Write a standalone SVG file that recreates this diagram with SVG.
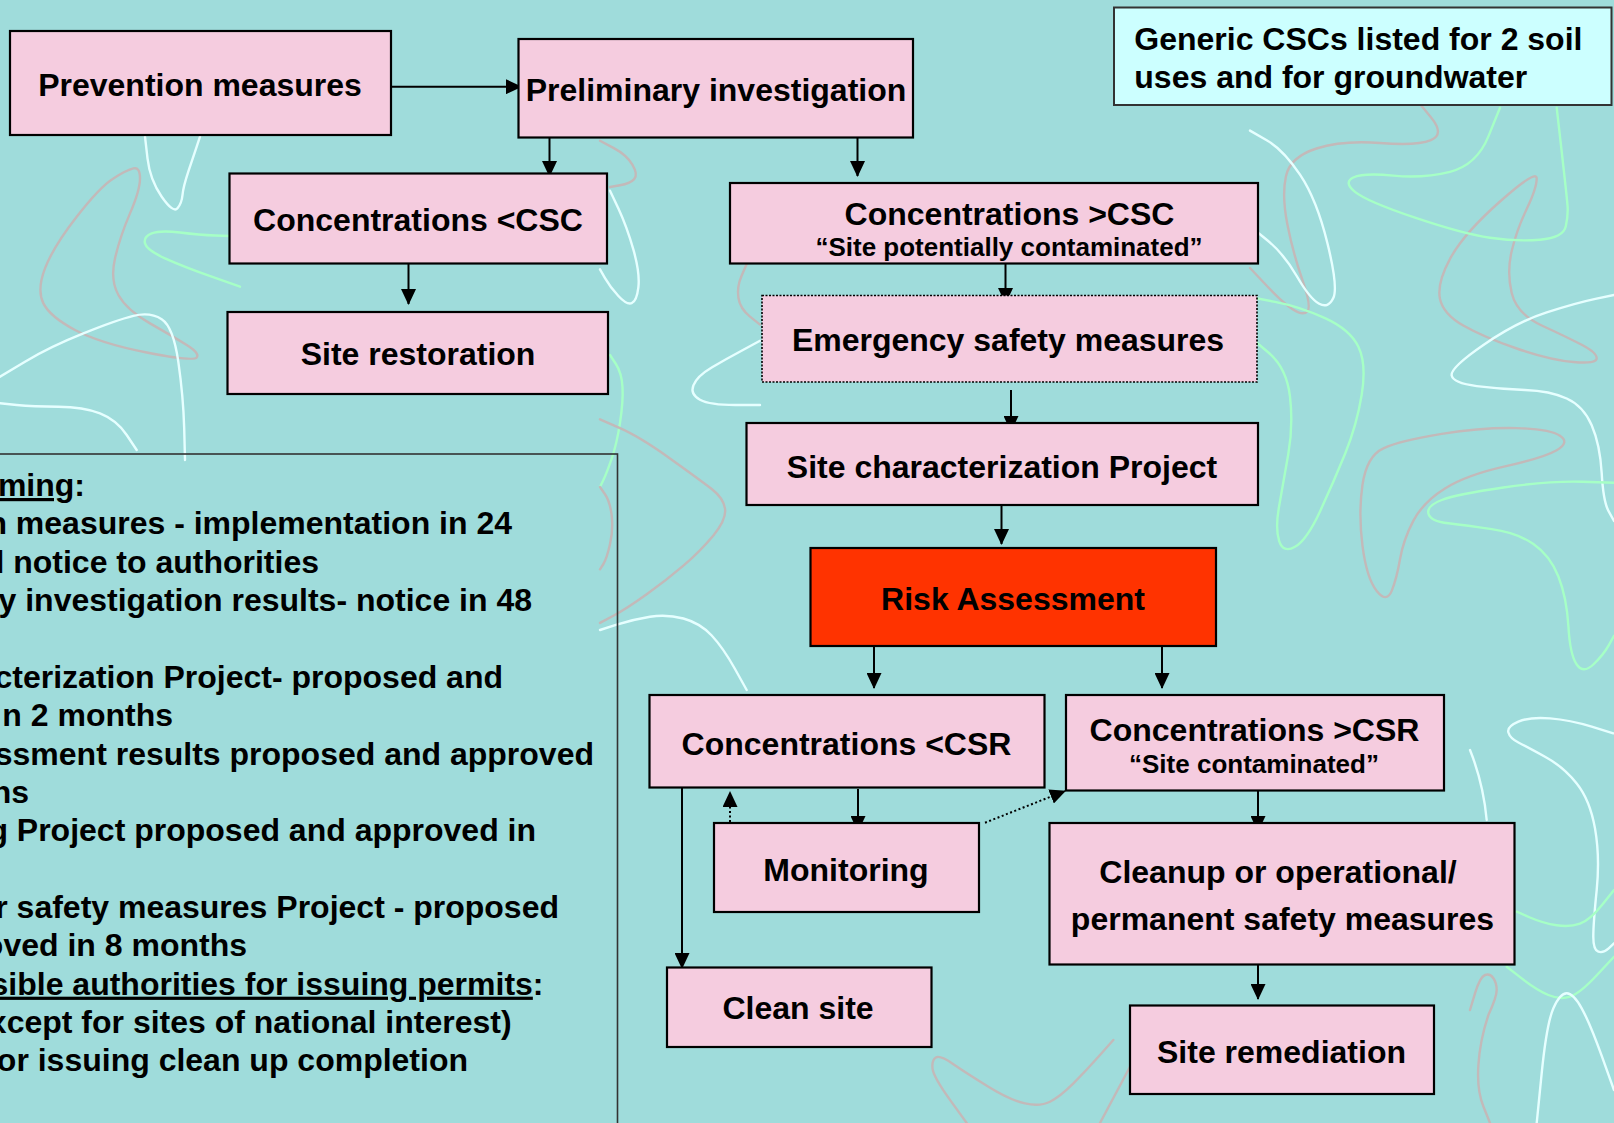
<svg xmlns="http://www.w3.org/2000/svg" width="1614" height="1123" viewBox="0 0 1614 1123">
<defs>
<marker id="ah" markerUnits="userSpaceOnUse" markerWidth="16" markerHeight="15" refX="15" refY="7.5" orient="auto">
<path d="M0,0 L16,7.5 L0,15 z" fill="#000"/>
</marker>
<style>
.bg{fill:#9FDCDB}
.node{fill:#F5CCDF;stroke:#000;stroke-width:2.2}
.risk{fill:#FF3300;stroke:#000;stroke-width:2.2}
.note{fill:#CCFFFF;stroke:#333;stroke-width:2}
.dotbox{fill:#F5CCDF;stroke:#000;stroke-width:1.6;stroke-dasharray:2 1.5}
.t{font-family:"Liberation Sans",Arial,sans-serif;font-weight:bold;font-size:32px;fill:#000}
.c{text-anchor:middle}
.s{font-size:26px}
.e{text-anchor:end}
.conn line{stroke:#000;stroke-width:2;fill:none}
.conn .dot{stroke-dasharray:2 2.5}
.sq path{fill:none;stroke-width:2.4;stroke-linejoin:round;stroke-linecap:round}
.g{stroke:#C3B9B9}
.w{stroke:#E6FFFF}
.gr{stroke:#A6FFC6}
</style>
</defs>
<rect class="bg" x="0" y="0" width="1614" height="1123"/>

<g class="sq" id="background-squiggles">
<path class="g" d="M1416.7,100 L1430.9,117.2 Q1445,134.4 1430.9,140.2 Q1416.7,146 1379.9,143 Q1343,140 1316.5,148.5 Q1290,157 1285.9,176.4 Q1281.7,195.7 1287.4,224.4 Q1293,253 1302.4,279.9 Q1311.7,306.7 1307.4,311.4 Q1303,316 1293,309.5 Q1283,303 1266.5,285.5 L1250,268"/>
<path class="g" d="M1536.7,178.5 Q1536.7,168.9 1500,201.5 Q1463.3,234 1450,258.9 Q1436.7,283.7 1440,298.9 Q1443.3,314 1463.3,325.5 Q1483.3,337 1516.7,348.5 Q1550,360 1573.4,362 Q1596.7,364 1596.7,358.3 Q1596.7,352.6 1581.7,344.8 Q1566.7,337 1541.7,325.5 Q1516.7,314 1511.7,293 Q1506.7,272 1511.7,251 Q1516.7,230 1526.7,209 Q1536.7,188 1536.7,178.5 Z"/>
<path class="gr" d="M1500,107.7 L1488.4,136.4 Q1476.7,165 1450,171.8 Q1423.3,178.5 1393.3,175.6 Q1363.3,172.7 1353.3,177.5 Q1343.3,182.3 1355,191.9 Q1366.7,201.4 1415,217.7 Q1463.3,234 1490,237.8 Q1516.7,241.6 1540,239.7 Q1563.3,237.8 1565.8,226.3 Q1568.3,214.8 1567.5,205.3 Q1566.7,195.7 1561.7,151.7 L1556.7,107.7"/>
<path class="w" d="M1250,130.6 L1266.7,140.2 Q1283.3,149.8 1300,174.7 Q1316.7,199.5 1327.5,243.5 Q1338.3,287.5 1333.3,298.1 Q1328.3,308.6 1319.2,303.8 Q1310,299 1296.7,276 Q1283.3,253 1266.7,239.7 L1250,226.3"/>
<path class="w" d="M1614,295 L1595.4,298.9 Q1576.7,302.8 1546.7,312.4 Q1516.7,322 1483.4,345 Q1450,368 1451.7,375.6 Q1453.3,383.2 1476.7,386.1 Q1500,389 1525,390 Q1550,390.9 1566.7,398.5 Q1583.3,406 1591.7,425.2 Q1600,444.4 1601.7,473.1 Q1603.3,501.8 1608.7,511.4 L1614,521"/>
<path class="g" d="M1556.7,450.2 Q1570,442.5 1560,435.8 Q1550,429 1516.7,428.1 Q1483.3,427.2 1441.7,433.9 Q1400,440.6 1383.4,448.3 Q1366.7,456 1362.5,484.7 Q1358.3,513.3 1362.5,545.9 Q1366.7,578.4 1376.7,590.9 Q1386.7,603.3 1391.7,590.9 Q1396.7,578.4 1400,559.2 Q1403.3,540 1413.3,520.9 Q1423.3,501.8 1445,488.4 Q1466.7,475 1505,466.4 Q1543.3,457.8 1556.7,450.2 Z"/>
<path class="gr" d="M1614,482.7 L1582,481.8 Q1550,480.8 1503.4,487.5 Q1456.7,494.2 1441.7,500 Q1426.7,505.7 1428.4,513.4 Q1430,521 1448.4,523.3 Q1466.7,525.6 1491.7,529.1 Q1516.7,532.5 1533.4,544 Q1550,555.4 1558.4,576.5 Q1566.7,597.5 1568.4,626.3 Q1570,655 1576.7,664.5 Q1583.3,674 1593.3,664.5 Q1603.3,655 1608.7,645.4 L1614,635.8"/>
<path class="gr" d="M1250,297 L1275,301.9 Q1300,306.7 1325,318.2 Q1350,329.6 1358.4,346.8 Q1366.7,364 1361.7,394.7 Q1356.7,425.3 1345,454 Q1333.3,482.7 1320,511.4 Q1306.7,540 1295,546.8 Q1283.3,553.5 1279.2,541.1 Q1275,528.6 1279.2,505.7 Q1283.3,482.7 1288.3,454 Q1293.3,425.3 1290,396.7 Q1286.7,368 1268.4,352.5 L1250,337"/>
<path class="g" d="M140,178.4 Q140,166.7 133.4,168.4 Q126.7,170 113.4,178.4 Q100,186.7 76.7,216.7 Q53.3,246.7 45,268.4 Q36.7,290 43.4,303.4 Q50,316.7 75,330 Q100,343.3 146.7,352.5 Q193.3,361.7 196.7,357.5 Q200,353.3 186.7,345 Q173.3,336.7 150,323.4 Q126.7,310 118.4,295 Q110,280 115,258.4 Q120,236.7 130,213.4 Q140,190 140,178.4 Z"/>
<path class="w" d="M0,376.7 L25,361.7 Q50,346.7 83.4,333.4 Q116.7,320 133.4,315.9 Q150,311.7 161.7,319.2 Q173.3,326.7 178.3,361.7 Q183.3,396.7 184.2,428.4 L185,460"/>
<path class="w" d="M0,403.3 L16.7,405 Q33.3,406.7 58.3,406.7 Q83.3,406.7 100,413.4 Q116.7,420 126.7,435 L136.7,450"/>
<path class="gr" d="M230,236 L215,235.5 Q200,235 180,232.5 Q160,230 151.7,233.4 Q143.3,236.7 145,243.4 Q146.7,250 165,258.4 Q183.3,266.7 211.7,276.7 L240,286.7"/>
<path class="w" d="M145,136.7 L147.5,158.4 Q150,180 161.7,196.7 Q173.3,213.3 177.5,208.3 Q181.7,203.3 182.5,195 Q183.3,186.7 188.3,171.7 Q193.3,156.7 196.7,146.7 L200,136.7"/>
<path class="g" d="M600,140.7 L613.4,147.9 Q626.7,155 632.5,164.8 Q638.3,174.6 634.2,179.1 Q630,183.6 620,185.3 L610,187"/>
<path class="w" d="M610,190.7 L618.4,208.6 Q626.7,226.4 633.4,249.7 Q640,272.9 638.4,287.2 Q636.7,301.4 631.7,303.2 Q626.7,305 618.4,296 Q610,287 605,278.2 L600,269.3"/>
<path class="gr" d="M610,355 L615.9,364 Q621.7,372.9 622.5,387.2 Q623.3,401.4 620,422.9 Q616.7,444.3 611.7,458.6 Q606.7,472.9 603.4,480 L600,487"/>
<path class="g" d="M600,419.3 L620,428.2 Q640,437 670,458.5 Q700,480 711.7,489 Q723.3,497.9 725,508.6 Q726.7,519.3 713.4,535.4 Q700,551.4 683.4,565.7 Q666.7,580 646.7,594.3 Q626.7,608.6 613.4,615.8 L600,622.9"/>
<path class="g" d="M600,487 L605,494.2 Q610,501.4 611.7,515.7 Q613.3,530 610,544.3 Q606.7,558.6 603.4,564 L600,569.3"/>
<path class="w" d="M600,630 L616.7,624.7 Q633.3,619.3 650,616.7 Q666.7,614 683.4,618.5 Q700,623 711.7,635.5 Q723.3,648 735,669 L746.7,690"/>
<path class="g" d="M746.7,264 L741.7,275.5 Q736.7,287 738.4,297.8 Q740,308.6 750,316.6 L760,324.6"/>
<path class="w" d="M760,340.7 L743.4,349.7 Q726.7,358.6 711.7,367.5 Q696.7,376.4 693.4,385.4 Q690,394.3 700,399.7 Q710,405 735,405 L760,405"/>
<path class="w" d="M1613.3,733.3 L1591.7,726.7 Q1570,720 1550,718.4 Q1530,716.7 1518.4,721.7 Q1506.7,726.7 1508.4,732.5 Q1510,738.3 1518.4,742.5 Q1526.7,746.7 1545,756.7 Q1563.3,766.7 1576.7,783.4 Q1590,800 1595,828.4 Q1600,856.7 1596.7,890 Q1593.3,923.3 1593.3,936.7 Q1593.3,950 1598.3,951.7 Q1603.3,953.3 1608.7,948.3 L1614,943.3"/>
<path class="gr" d="M1516.7,911.7 L1530,917.5 Q1543.3,923.3 1556.7,925.3 Q1570,927.3 1580,923.7 Q1590,920 1602,905 L1614,890"/>
<path class="gr" d="M1506.7,966.7 L1521.7,978.4 Q1536.7,990 1548.4,995 Q1560,1000 1570,996.7 Q1580,993.3 1597,975 L1614,956.7"/>
<path class="w" d="M1536.7,1123 L1541.7,1073.2 Q1546.7,1023.3 1553.4,1008.3 Q1560,993.3 1566.7,993.3 Q1573.3,993.3 1581.7,1008.3 Q1590,1023.3 1602,1056.7 L1614,1090"/>
<path class="w" d="M1470,750 Q1483.3,783.3 1486.7,820"/>
<path class="g" d="M1470,1010 L1475,993.4 Q1480,976.7 1485,975 Q1490,973.3 1493.4,978.2 Q1496.7,983 1496.7,990 Q1496.7,997 1488.4,1015 Q1480,1040 1478.4,1065 Q1476.7,1090 1483.4,1106.5 L1490,1123"/>
<path class="g" d="M1113.3,1040 L1100,1055 Q1086.7,1070 1073.4,1083.4 Q1060,1096.7 1050,1101.7 Q1040,1106.7 1025,1103.4 Q1010,1100 988.4,1086.7 Q966.7,1073.3 953.4,1064.2 Q940,1055 935.9,1057.5 Q931.7,1060 932.5,1068.4 Q933.3,1076.7 950,1099.9 L966.7,1123"/>
<path class="g" d="M1130,1066.7 L1100,1123"/>
</g>

<g id="timing-box">
<rect x="-5" y="454" width="622.5" height="700" fill="none" stroke="#333" stroke-width="1.6"/>
<text class="t e" x="85" y="496"><tspan text-decoration="underline">ming</tspan>:</text>
<text class="t e" x="512" y="534.4">n measures - implementation in 24</text>
<text class="t e" x="319" y="572.7">l notice to authorities</text>
<text class="t e" x="532" y="611.1">y investigation results- notice in 48</text>
<text class="t e" x="503" y="687.8">cterization Project- proposed and</text>
<text class="t e" x="173" y="726.2">n 2 months</text>
<text class="t e" x="594" y="764.5">ssment results proposed and approved</text>
<text class="t e" x="29" y="802.9">ns</text>
<text class="t e" x="536" y="841.2">g Project proposed and approved in</text>
<text class="t e" x="559" y="918">r safety measures Project - proposed</text>
<text class="t e" x="247" y="956.3">oved in 8 months</text>
<text class="t e" x="543.5" y="994.7"><tspan text-decoration="underline">sible authorities for issuing permits</tspan>:</text>
<text class="t e" x="511.6" y="1033">xcept for sites of national interest)</text>
<text class="t e" x="468" y="1071.4">or issuing clean up completion</text>
</g>

<g class="conn" id="connectors">
<line x1="391" y1="86.7" x2="521" y2="86.7" marker-end="url(#ah)"/>
<line x1="549.5" y1="138" x2="549.5" y2="176" marker-end="url(#ah)"/>
<line x1="857.5" y1="135" x2="857.5" y2="176" marker-end="url(#ah)"/>
<line x1="408.5" y1="264" x2="408.5" y2="304" marker-end="url(#ah)"/>
<line x1="1005.5" y1="264" x2="1005.5" y2="303" marker-end="url(#ah)"/>
<line x1="1011" y1="390" x2="1011" y2="431" marker-end="url(#ah)"/>
<line x1="1001.5" y1="503" x2="1001.5" y2="544" marker-end="url(#ah)"/>
<line x1="874" y1="647" x2="874" y2="688" marker-end="url(#ah)"/>
<line x1="1162" y1="647" x2="1162" y2="688" marker-end="url(#ah)"/>
<line x1="858" y1="789" x2="858" y2="831" marker-end="url(#ah)"/>
<line class="dot" x1="730" y1="822" x2="730" y2="792" marker-end="url(#ah)"/>
<line class="dot" x1="985" y1="822.7" x2="1065" y2="791" marker-end="url(#ah)"/>
<line x1="682" y1="788" x2="682" y2="968" marker-end="url(#ah)"/>
<line x1="1258" y1="791" x2="1258" y2="831" marker-end="url(#ah)"/>
<line x1="1258" y1="965" x2="1258" y2="999" marker-end="url(#ah)"/>
</g>

<g id="prevention">
<rect class="node" x="10" y="31" width="381" height="104"/>
<text class="t c" x="200" y="96">Prevention measures</text>
</g>
<g id="preliminary">
<rect class="node" x="518.5" y="39" width="394.5" height="98.5"/>
<text class="t c" x="716" y="101">Preliminary investigation</text>
</g>
<g id="lt-csc">
<rect class="node" x="229.5" y="173.5" width="377.5" height="90"/>
<text class="t c" x="418" y="231">Concentrations &lt;CSC</text>
</g>
<g id="restoration">
<rect class="node" x="227.5" y="312" width="380.5" height="82"/>
<text class="t c" x="418" y="364.5">Site restoration</text>
</g>
<g id="gt-csc">
<rect class="node" x="730" y="183" width="528" height="80.5"/>
<text class="t c" x="1009.5" y="224.5">Concentrations &gt;CSC</text>
<text class="t c s" x="1009" y="256">“Site potentially contaminated”</text>
</g>
<g id="emergency">
<rect class="dotbox" x="762" y="295.5" width="495" height="86.5"/>
<text class="t c" x="1008" y="351">Emergency safety measures</text>
</g>
<g id="characterization">
<rect class="node" x="746.5" y="423" width="511.5" height="82"/>
<text class="t c" x="1002" y="477.6">Site characterization Project</text>
</g>
<g id="risk">
<rect class="risk" x="810.5" y="548" width="405.5" height="98"/>
<text class="t c" x="1013" y="609.5">Risk Assessment</text>
</g>
<g id="lt-csr">
<rect class="node" x="649.5" y="695" width="395" height="92.5"/>
<text class="t c" x="846.5" y="754.5">Concentrations &lt;CSR</text>
</g>
<g id="gt-csr">
<rect class="node" x="1066" y="695" width="378" height="95.5"/>
<text class="t c" x="1254.5" y="741.3">Concentrations &gt;CSR</text>
<text class="t c s" x="1254" y="773">“Site contaminated”</text>
</g>
<g id="monitoring">
<rect class="node" x="714" y="823" width="265" height="89"/>
<text class="t c" x="846" y="881.3">Monitoring</text>
</g>
<g id="cleanup">
<rect class="node" x="1049.5" y="823" width="465" height="141.5"/>
<text class="t c" x="1278" y="883.3">Cleanup or operational/</text>
<text class="t c" x="1282.5" y="929.6">permanent safety measures</text>
</g>
<g id="clean-site">
<rect class="node" x="667" y="967.5" width="264.5" height="79.5"/>
<text class="t c" x="798" y="1019">Clean site</text>
</g>
<g id="remediation">
<rect class="node" x="1130" y="1005.5" width="304" height="88.5"/>
<text class="t c" x="1281.5" y="1062.5">Site remediation</text>
</g>
<g id="generic-note">
<rect class="note" x="1114" y="7.5" width="497.5" height="97.5"/>
<text class="t" x="1134.3" y="49.6">Generic CSCs listed for 2 soil</text>
<text class="t" x="1134.3" y="87.7">uses and for groundwater</text>
</g>
</svg>
